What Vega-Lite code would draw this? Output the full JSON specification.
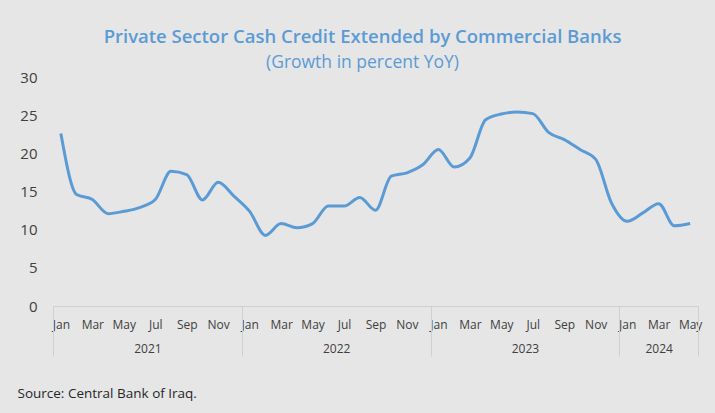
{
  "$schema": "https://vega.github.io/schema/vega-lite/v6.json",
  "width": 645,
  "height": 229,
  "autosize": "none",
  "padding": {"left": 53, "top": 77, "right": 17, "bottom": 107},
  "background": "#e6e6e6",
  "config": {"view": {"stroke": null}, "font": "Open Sans"},
  "title": {
    "text": "Private Sector Cash Credit Extended by Commercial Banks",
    "subtitle": "(Growth in percent YoY)",
    "anchor": "middle",
    "dx": -13,
    "dy": 9,
    "offset": 8,
    "fontSize": 18.5,
    "fontWeight": 600,
    "color": "#5b9bd5",
    "subtitleFontSize": 17.5,
    "subtitleColor": "#5b9bd5",
    "subtitlePadding": 7
  },
  "data": {
    "values": [
      {"month": "2021-01", "i": 0, "v": 22.6},
      {"month": "2021-02", "i": 1, "v": 14.6},
      {"month": "2021-03", "i": 2, "v": 13.95},
      {"month": "2021-04", "i": 3, "v": 12.1},
      {"month": "2021-05", "i": 4, "v": 12.4},
      {"month": "2021-06", "i": 5, "v": 12.9},
      {"month": "2021-07", "i": 6, "v": 13.95},
      {"month": "2021-08", "i": 7, "v": 17.65},
      {"month": "2021-09", "i": 8, "v": 17.2},
      {"month": "2021-10", "i": 9, "v": 13.9},
      {"month": "2021-11", "i": 10, "v": 16.2},
      {"month": "2021-12", "i": 11, "v": 14.4},
      {"month": "2022-01", "i": 12, "v": 12.4},
      {"month": "2022-02", "i": 13, "v": 9.25},
      {"month": "2022-03", "i": 14, "v": 10.8},
      {"month": "2022-04", "i": 15, "v": 10.25},
      {"month": "2022-05", "i": 16, "v": 10.8},
      {"month": "2022-06", "i": 17, "v": 13.1},
      {"month": "2022-07", "i": 18, "v": 13.1},
      {"month": "2022-08", "i": 19, "v": 14.2},
      {"month": "2022-09", "i": 20, "v": 12.55},
      {"month": "2022-10", "i": 21, "v": 17.0},
      {"month": "2022-11", "i": 22, "v": 17.45},
      {"month": "2022-12", "i": 23, "v": 18.5},
      {"month": "2023-01", "i": 24, "v": 20.5},
      {"month": "2023-02", "i": 25, "v": 18.2},
      {"month": "2023-03", "i": 26, "v": 19.4},
      {"month": "2023-04", "i": 27, "v": 24.4},
      {"month": "2023-05", "i": 28, "v": 25.15},
      {"month": "2023-06", "i": 29, "v": 25.4},
      {"month": "2023-07", "i": 30, "v": 25.2},
      {"month": "2023-08", "i": 31, "v": 22.75},
      {"month": "2023-09", "i": 32, "v": 21.8},
      {"month": "2023-10", "i": 33, "v": 20.5},
      {"month": "2023-11", "i": 34, "v": 19.2},
      {"month": "2023-12", "i": 35, "v": 13.5},
      {"month": "2024-01", "i": 36, "v": 11.1},
      {"month": "2024-02", "i": 37, "v": 12.2},
      {"month": "2024-03", "i": 38, "v": 13.4},
      {"month": "2024-04", "i": 39, "v": 10.5},
      {"month": "2024-05", "i": 40, "v": 10.8}
    ]
  },
  "encoding": {
    "y": {
      "field": "v",
      "type": "quantitative",
      "scale": {"domain": [0, 30], "nice": false},
      "axis": {
        "title": null,
        "values": [0, 5, 10, 15, 20, 25, 30],
        "domain": false,
        "ticks": false,
        "grid": false,
        "labelPadding": 16,
        "labelFontSize": 15,
        "labelColor": "#404040"
      }
    }
  },
  "layer": [
    {
      "mark": {"type": "line", "color": "#5b9bd5", "strokeWidth": 3, "interpolate": "monotone"},
      "encoding": {
        "x": {
          "field": "i",
          "type": "quantitative",
          "scale": {"domain": [-0.5, 40.5], "nice": false, "zero": false},
          "axis": {
            "orient": "bottom",
            "title": null,
            "values": [0, 2, 4, 6, 8, 10, 12, 14, 16, 18, 20, 22, 24, 26, 28, 30, 32, 34, 36, 38, 40],
            "labelExpr": "['Jan','Feb','Mar','Apr','May','Jun','Jul','Aug','Sep','Oct','Nov','Dec'][datum.value % 12]",
            "ticks": false,
            "grid": false,
            "domainColor": "#d0d0d0",
            "domainWidth": 1,
            "labelBaseline": "middle",
            "labelPadding": 18,
            "labelFontSize": 12,
            "labelColor": "#404040",
            "labelFlush": false,
            "labelOverlap": false
          }
        }
      }
    },
    {
      "mark": {"type": "line", "opacity": 0},
      "encoding": {
        "x": {
          "field": "i",
          "type": "quantitative",
          "axis": {
            "orient": "bottom",
            "title": null,
            "values": [-0.5, 11.5, 23.5, 35.5, 40.5],
            "labels": false,
            "domain": false,
            "grid": false,
            "ticks": true,
            "tickSize": 50,
            "tickColor": "#d0d0d0",
            "tickWidth": 1
          }
        }
      }
    },
    {
      "mark": {"type": "line", "opacity": 0},
      "encoding": {
        "x": {
          "field": "i",
          "type": "quantitative",
          "axis": {
            "orient": "bottom",
            "values": [5.5, 17.5, 29.5, 38],
            "labelExpr": "'' + (2021 + floor((datum.value + 0.5) / 12))",
            "domain": false,
            "grid": false,
            "ticks": false,
            "labelBaseline": "middle",
            "labelPadding": 42,
            "labelFontSize": 12,
            "labelColor": "#404040",
            "labelFlush": false,
            "labelOverlap": false,
            "title": "Source: Central Bank of Iraq.",
            "titleAnchor": "start",
            "titleAlign": "left",
            "titleX": -36,
            "titleY": 87,
            "titleBaseline": "middle",
            "titleFontWeight": "normal",
            "titleFontSize": 13.5,
            "titleColor": "#262626"
          }
        }
      }
    }
  ],
  "resolve": {"axis": {"x": "independent"}}
}
